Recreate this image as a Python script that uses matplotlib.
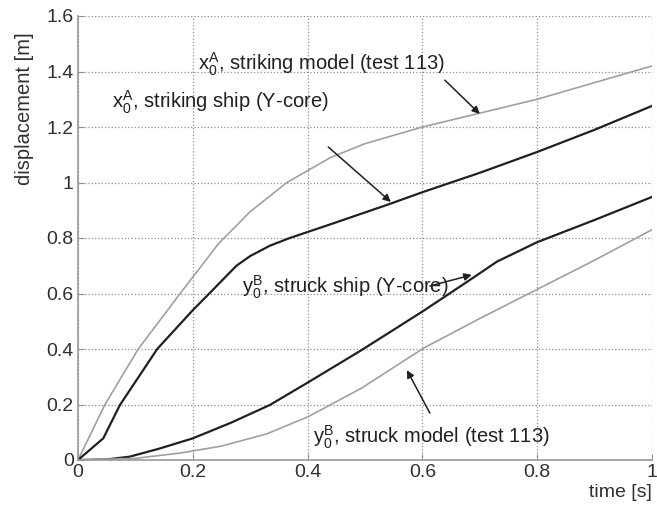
import numpy as np
import matplotlib.pyplot as plt

plt.rcParams['font.family'] = ['Liberation Sans', 'DejaVu Sans']
plt.rcParams['mathtext.default'] = 'regular'

# striking model, test 113 (light line)
t_model_a = [0, 0.047, 0.105, 0.178, 0.245, 0.3, 0.364, 0.44, 0.5, 0.6, 0.7, 0.8, 0.9, 1.0]
x_model_a = [0, 0.2, 0.4, 0.6, 0.78, 0.895, 1.0, 1.09, 1.14, 1.20, 1.25, 1.30, 1.36, 1.42]

# striking ship, Y-core (dark line)
t_ship_a = [0, 0.044, 0.073, 0.138, 0.2, 0.224, 0.276, 0.3, 0.334, 0.369, 0.445, 0.538, 0.6, 0.7, 0.8, 0.9, 1.0]
x_ship_a = [0, 0.078, 0.198, 0.4, 0.54, 0.59, 0.70, 0.735, 0.772, 0.8, 0.853, 0.919, 0.965, 1.035, 1.11, 1.19, 1.276]

# struck ship, Y-core (dark line)
t_ship_b = [0, 0.05, 0.09, 0.14, 0.2, 0.265, 0.334, 0.401, 0.494, 0.6, 0.68, 0.73, 0.8, 0.9, 1.0]
y_ship_b = [0, 0.002, 0.012, 0.04, 0.078, 0.133, 0.198, 0.28, 0.396, 0.535, 0.645, 0.715, 0.785, 0.865, 0.948]

# struck model, test 113 (light line)
t_model_b = [0, 0.1, 0.178, 0.25, 0.33, 0.401, 0.494, 0.602, 0.7, 0.8, 0.9, 1.0]
y_model_b = [0, 0.006, 0.025, 0.05, 0.095, 0.156, 0.259, 0.403, 0.51, 0.615, 0.72, 0.83]

x_ticks = [0, 0.2, 0.4, 0.6, 0.8, 1]
x_ticklabels = ['0', '0.2', '0.4', '0.6', '0.8', '1']
y_ticks = [0, 0.2, 0.4, 0.6, 0.8, 1, 1.2, 1.4, 1.6]
y_ticklabels = ['0', '0.2', '0.4', '0.6', '0.8', '1', '1.2', '1.4', '1.6']

fig = plt.figure(figsize=(6.57, 5.08), dpi=100)
ax = fig.add_axes([78/657, 48/508, 574/657, 444/508])

light = '#a0a0a0'
dark = '#202020'
ax.plot(t_model_a, x_model_a, color=light, lw=1.2)
ax.plot(t_ship_a, x_ship_a, color=dark, lw=1.6)
ax.plot(t_ship_b, y_ship_b, color=dark, lw=1.6)
ax.plot(t_model_b, y_model_b, color=light, lw=1.2)

ax.set_xlim(0, 1)
ax.set_ylim(0, 1.6)
ax.set_xticks(x_ticks)
ax.set_xticklabels(x_ticklabels)
ax.set_yticks(y_ticks)
ax.set_yticklabels(y_ticklabels)
ax.tick_params(direction='in', length=4, labelsize=14, colors='#909090', labelcolor='#303030', pad=3)
ax.grid(True, linestyle=':', color='#909090', lw=0.9)
for s in ['top', 'right']:
    ax.spines[s].set_visible(False)
for s in ['left', 'bottom']:
    ax.spines[s].set_color('#999999')
    ax.spines[s].set_linewidth(1.2)

ax.set_xlabel('time [s]', fontsize=14, loc='right', color='#303030', labelpad=2)
fig.text(25/657, 1 - 109/508, 'displacement [m]', rotation=90, ha='center', va='center',
         fontsize=14.5, color='#303030')

# curve labels with arrows
fs = 14.5
ax.text(0.209, 1.427, r'$x_0^A$, striking model (test 113)', fontsize=fs, va='center', color='#202020')
ax.text(0.059, 1.29, r'$x_0^A$, striking ship (Y-core)', fontsize=fs, va='center', color='#202020')
ax.text(0.286, 0.623, r'$y_0^B$, struck ship (Y-core)', fontsize=fs, va='center', color='#202020')
ax.text(0.409, 0.083, r'$y_0^B$, struck model (test 113)', fontsize=fs, va='center', color='#202020')

arr = dict(arrowstyle='-|>', color='#202020', lw=1.1, mutation_scale=11, shrinkA=0, shrinkB=0)
ax.annotate('', xy=(0.700, 1.247), xytext=(0.639, 1.369), arrowprops=arr)
ax.annotate('', xy=(0.545, 0.93), xytext=(0.436, 1.128), arrowprops=arr)
ax.annotate('', xy=(0.686, 0.667), xytext=(0.613, 0.627), arrowprops=arr)
ax.annotate('', xy=(0.573, 0.324), xytext=(0.613, 0.169), arrowprops=arr)

fig.savefig('out.png', dpi=100)
